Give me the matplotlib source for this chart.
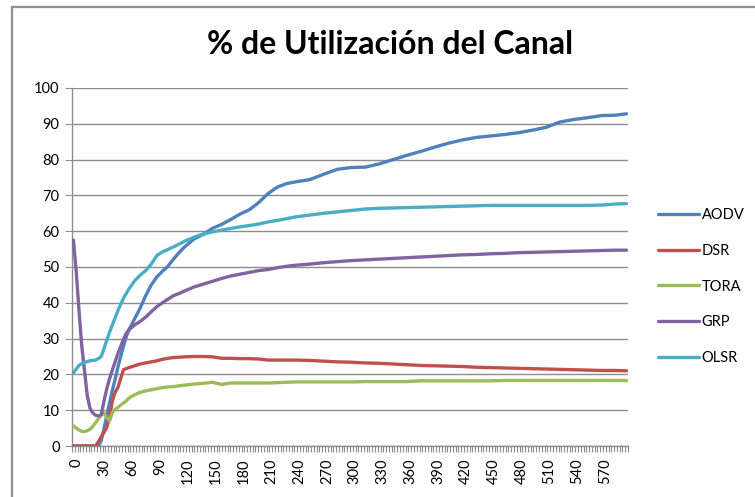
import matplotlib
matplotlib.use("Agg")
import matplotlib.pyplot as plt
from matplotlib.lines import Line2D
from matplotlib.transforms import ScaledTranslation
import numpy as np

plt.rcParams['font.family'] = ['Lato', 'DejaVu Sans']

title = "% de Utilización del Canal"
series_names = ["AODV", "DSR", "TORA", "GRP", "OLSR"]
colors = ["#4F81BD", "#C0504D", "#9BBB59", "#8064A2", "#4BACC6"]

# simulation time (s)
time = [0, 3, 6, 9, 12, 15, 18, 21, 24, 27, 30, 33, 36, 39, 42, 45, 48, 51, 54, 57, 60,
        66, 72, 78, 84, 90, 96, 102, 108, 114, 120,
        130, 140, 150, 160, 170, 180, 190, 200, 210, 220, 230, 240,
        255, 270, 285, 300, 315, 330, 345, 360, 375, 390, 405, 420, 435, 450,
        465, 480, 495, 510, 525, 540, 555, 570, 585, 597]

aodv = [0, 0, 0, 0, 0, 0, 0, 0, 0, 0, 1.5, 4.8, 8.5, 12, 15.5, 18.6, 22, 25, 27.8, 30.5, 32.5,
        35.5, 38.5, 42, 45, 47.2, 48.8, 50.2, 52.2, 54, 55.6,
        57.8, 59.1, 60.8, 61.9, 63.3, 64.8, 66, 68, 70.5, 72.3, 73.3, 73.8,
        74.4, 75.9, 77.3, 77.8, 77.9, 78.8, 80, 81.2, 82.3, 83.5, 84.6, 85.5, 86.2, 86.6,
        87, 87.5, 88.2, 89, 90.5, 91.2, 91.7, 92.3, 92.4, 92.8]

dsr = [0, 0, 0, 0, 0, 0, 0, 0, 0, 1.2, 2.6, 3.8, 5.2, 8, 12.5, 15, 16.3, 18.8, 21.3, 21.6, 21.9,
       22.4, 22.9, 23.2, 23.5, 23.8, 24.2, 24.5, 24.7, 24.8, 24.9,
       25, 25, 24.9, 24.5, 24.5, 24.4, 24.4, 24.3, 24, 24, 24, 24,
       23.9, 23.7, 23.5, 23.4, 23.2, 23.1, 22.9, 22.7, 22.5, 22.4, 22.3, 22.2, 22, 21.9,
       21.8, 21.7, 21.6, 21.5, 21.4, 21.3, 21.2, 21.1, 21.1, 21]

tora = [5.6, 5, 4.5, 4.1, 4, 4.3, 4.7, 5.5, 6.5, 7.6, 8.6, 9.2, 8, 7, 9.3, 10.2, 10.8, 11.4, 12, 12.6, 13.4,
        14.3, 15, 15.4, 15.7, 16, 16.3, 16.5, 16.6, 16.8, 17,
        17.3, 17.5, 17.8, 17.2, 17.6, 17.6, 17.6, 17.6, 17.6, 17.7, 17.8, 17.9,
        17.9, 17.9, 17.9, 17.9, 18, 18, 18, 18, 18.2, 18.2, 18.2, 18.2, 18.2, 18.2,
        18.3, 18.3, 18.3, 18.3, 18.3, 18.3, 18.3, 18.3, 18.3, 18.3]

grp = [57.5, 49, 38, 28, 21, 14, 10.5, 9.2, 8.6, 8.4, 8.7, 12.5, 16, 18.8, 21.2, 23.5, 25.8, 27.8, 29.8, 31.5, 32.5,
       33.8, 34.8, 36, 37.5, 38.9, 40, 41, 42, 42.6, 43.3,
       44.4, 45.2, 46, 46.8, 47.5, 48, 48.5, 49, 49.3, 49.8, 50.2, 50.5,
       50.8, 51.2, 51.5, 51.8, 52, 52.2, 52.4, 52.6, 52.8, 53, 53.2, 53.4, 53.5, 53.7,
       53.8, 54, 54.1, 54.2, 54.3, 54.4, 54.5, 54.6, 54.7, 54.7]

olsr = [20.4, 21.5, 22.5, 23, 23.3, 23.6, 23.8, 23.9, 24, 24.4, 25, 27.2, 29.5, 31.8, 33.8, 35.8, 37.8, 39.6, 41.2, 42.6, 43.9,
        46.1, 47.7, 49, 50.8, 53.2, 54.2, 54.9, 55.6, 56.4, 57.2,
        58.3, 59.2, 59.8, 60.3, 60.8, 61.2, 61.6, 62, 62.6, 63, 63.5, 64,
        64.5, 65, 65.4, 65.8, 66.2, 66.4, 66.5, 66.6, 66.7, 66.8, 66.9, 67, 67.1, 67.2,
        67.2, 67.2, 67.2, 67.2, 67.2, 67.2, 67.2, 67.3, 67.6, 67.7]

x_labels = list(range(0, 571, 30))
y_ticks = list(range(0, 101, 10))

W, H = 755, 497
fig = plt.figure(figsize=(W / 100, H / 100), dpi=100)
fig.patch.set_facecolor("white")

ax = fig.add_axes([72 / W, 1 - 446 / H, 556 / W, 358 / H])

grid_col = "#8C8C8C"
for name, vals, c in zip(series_names, [aodv, dsr, tora, grp, olsr], colors):
    ax.plot(time, vals, color=c, lw=2.4, label=name, solid_capstyle="round",
            solid_joinstyle="round", zorder=3)

ax.set_xlim(-1.5, 598.5)
ax.set_ylim(0, 100)
ax.set_yticks(y_ticks)
ax.set_xticks(x_labels)
ax.set_xticklabels([str(v) for v in x_labels], rotation=90, fontsize=10.5)
ax.set_xticks(np.arange(-1.5, 599, 3), minor=True)
ax.tick_params(axis="x", which="major", length=0, pad=9)
ax.tick_params(axis="x", which="minor", length=4, width=0.8, color=grid_col, direction="out")
ax.tick_params(axis="y", length=5, width=0.8, color=grid_col, labelsize=10.5, pad=4)

shift = ScaledTranslation(0.035, 0, fig.dpi_scale_trans)
for lab in ax.get_xticklabels():
    lab.set_transform(lab.get_transform() + shift)

ax.grid(axis="y", color=grid_col, lw=1.0, zorder=0)
for s in ["top", "right"]:
    ax.spines[s].set_visible(False)
for s in ["left", "bottom"]:
    ax.spines[s].set_color(grid_col)
    ax.spines[s].set_linewidth(1.0)
ax.set_axisbelow(True)

fig.text(390 / W, 1 - 44 / H, title, ha="center", va="center",
         fontsize=23, fontweight="bold")

fig.legend(loc="upper left", bbox_to_anchor=(652 / W, 1 - 202 / H),
           frameon=False, fontsize=10.5, handlelength=2.8, handletextpad=0.2,
           labelspacing=1.5, borderaxespad=0)

# outer chart frame
fc = "#909090"
fig.add_artist(Line2D([12 / W, 12 / W], [0, 1 - 7 / H], color=fc, lw=1.6,
                      transform=fig.transFigure))
fig.add_artist(Line2D([12 / W, 1], [1 - 7 / H, 1 - 7 / H], color=fc, lw=1.6,
                      transform=fig.transFigure))

fig.savefig("out.png", dpi=100, facecolor="white")
